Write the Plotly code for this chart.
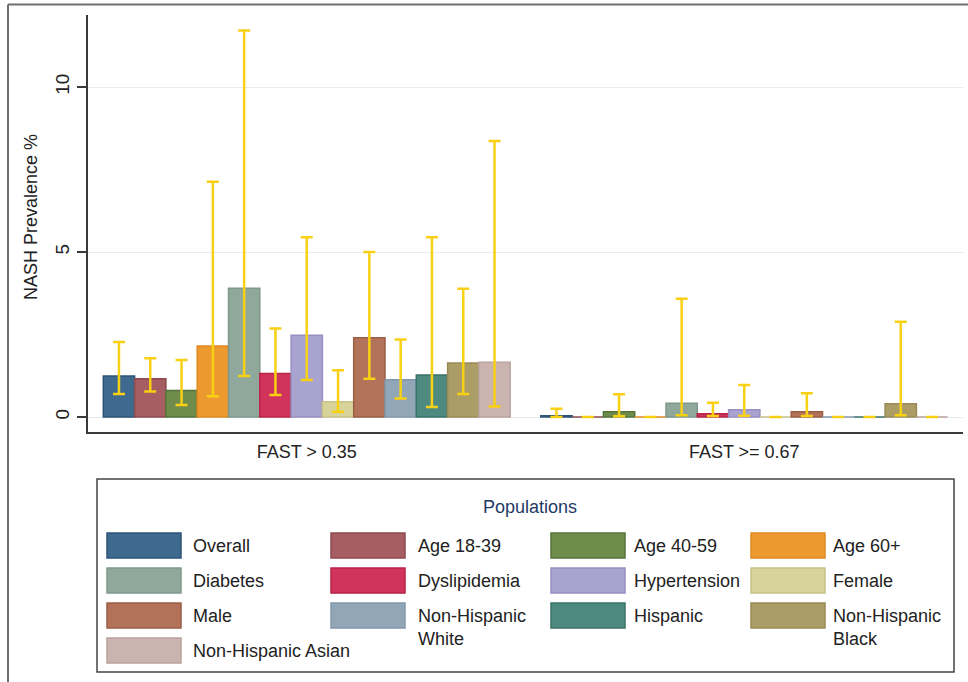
import plotly.graph_objects as go

# ---------------- data ----------------
categories = ["FAST > 0.35", "FAST >= 0.67"]
populations = ["Overall", "Age 18-39", "Age 40-59", "Age 60+", "Diabetes", "Dyslipidemia",
               "Hypertension", "Female", "Male", "Non-Hispanic White", "Hispanic",
               "Non-Hispanic Black", "Non-Hispanic Asian"]
legend_text = ["Overall", "Age 18-39", "Age 40-59", "Age 60+", "Diabetes", "Dyslipidemia",
               "Hypertension", "Female", "Male", "Non-Hispanic<br>White", "Hispanic",
               "Non-Hispanic<br>Black", "Non-Hispanic Asian"]
# prevalence (%) for FAST > 0.35 and FAST >= 0.67
prev_035 = [1.24, 1.16, 0.80, 2.15, 3.90, 1.32, 2.48, 0.46, 2.40, 1.13, 1.27, 1.64, 1.66]
prev_067 = [0.04, 0.00, 0.16, 0.00, 0.42, 0.10, 0.22, 0.00, 0.16, 0.00, 0.00, 0.40, 0.00]
# 95% CI lower / upper
low_035 = [0.70, 0.77, 0.36, 0.63, 1.24, 0.67, 1.12, 0.16, 1.16, 0.56, 0.30, 0.70, 0.32]
high_035 = [2.27, 1.78, 1.73, 7.13, 11.71, 2.68, 5.45, 1.42, 5.00, 2.35, 5.45, 3.89, 8.36]
low_067 = [0.00, 0.00, 0.02, 0.00, 0.05, 0.03, 0.04, 0.00, 0.03, 0.00, 0.00, 0.05, 0.00]
high_067 = [0.25, 0.00, 0.69, 0.00, 3.58, 0.43, 0.97, 0.00, 0.72, 0.00, 0.00, 2.89, 0.00]
y_ticks = [0, 5, 10]

fill_colors = ["#3F6A8F", "#A65E63", "#6F8C4C", "#EC9A2F", "#8FA89B", "#D0335B", "#A9A3D0",
               "#D8D39A", "#B3735A", "#91A7B8", "#4F8A80", "#AC9C66", "#CBB3AF"]
line_colors = ["#2D5478", "#8E4A50", "#56743A", "#E08A20", "#7F988A", "#B82548", "#9890C4",
               "#C8C288", "#9C5E45", "#8298AA", "#3A7268", "#9A8A55", "#BBA39F"]
ci_color = "#F8D014"

# ---------------- geometry helpers (figure pixels -> paper) ----------------
W, H = 968, 682
L, R, T, B = 88, 5, 15, 250
PW, PH = W - L - R, H - T - B


def px(x):
    return (x - L) / PW


def py(y):
    return (H - B - y) / PH


FONT = "Arial, Liberation Sans, sans-serif"
TXT = "#222222"

fig = go.Figure()
for i, name in enumerate(populations):
    vals = [prev_035[i], prev_067[i]]
    lows = [low_035[i], low_067[i]]
    highs = [high_035[i], high_067[i]]
    fig.add_trace(go.Bar(
        x=categories, y=vals, name=name, showlegend=False,
        marker=dict(color=fill_colors[i], line=dict(color=line_colors[i], width=1.5)),
        error_y=dict(type="data", symmetric=False,
                     array=[h - v for h, v in zip(highs, vals)],
                     arrayminus=[v - lo for v, lo in zip(vals, lows)],
                     color=ci_color, thickness=2.5, width=6),
    ))

fig.update_layout(
    width=W, height=H,
    margin=dict(l=L, r=R, t=T, b=B, autoexpand=False),
    paper_bgcolor="white", plot_bgcolor="white",
    barmode="group", bargap=0.07, bargroupgap=0,
    font=dict(family=FONT, size=18, color=TXT),
    xaxis=dict(range=[-0.5, 1.5], showline=True, linecolor="#3a3a3a", linewidth=2,
               ticks="outside", ticklen=2, tickcolor="rgba(0,0,0,0)",
               tickfont=dict(size=18, color=TXT), showgrid=False, zeroline=False,
               fixedrange=True),
    yaxis=dict(range=[-15 / 33, 402 / 33], tickvals=y_ticks, ticktext=[str(t) for t in y_ticks],
               tickangle=-90, ticks="outside", ticklen=9, tickcolor="#3a3a3a", tickwidth=1.5,
               showline=True, linecolor="#3a3a3a", linewidth=2,
               showgrid=True, gridcolor="#E3EDEF", gridwidth=1, zeroline=False,
               tickfont=dict(size=19, color=TXT), fixedrange=True),
)

shapes = []
annotations = []
# outer frame (top and left edges)
shapes.append(dict(type="line", xref="paper", yref="paper", x0=px(8), x1=px(968), y0=py(4.5), y1=py(4.5),
                   line=dict(color="#6e6e6e", width=2)))
shapes.append(dict(type="line", xref="paper", yref="paper", x0=px(8), x1=px(8), y0=py(4.5), y1=py(682),
                   line=dict(color="#6e6e6e", width=2)))
# y-axis title
annotations.append(dict(text="NASH Prevalence %", xref="paper", yref="paper", x=px(31), y=py(217),
                        textangle=-90, showarrow=False, xanchor="center", yanchor="middle",
                        font=dict(size=18, color=TXT)))
# legend box
shapes.append(dict(type="rect", xref="paper", yref="paper", x0=px(97), x1=px(954), y0=py(672), y1=py(479),
                   line=dict(color="#444444", width=1.5), fillcolor="white", layer="below"))
annotations.append(dict(text="Populations", xref="paper", yref="paper", x=px(530), y=py(507),
                        showarrow=False, xanchor="center", yanchor="middle",
                        font=dict(size=18, color="#1F3A66")))
col_x = [107, 331, 551, 751]
text_x = [191, 416, 632, 831]
row_top = [533, 568, 603, 638]
for i, lab in enumerate(legend_text):
    r, c = divmod(i, 4)
    y0 = row_top[r]
    shapes.append(dict(type="rect", xref="paper", yref="paper", x0=px(col_x[c]), x1=px(col_x[c] + 74),
                       y0=py(y0 + 25), y1=py(y0), fillcolor=fill_colors[i],
                       line=dict(color=line_colors[i], width=1.5)))
    annotations.append(dict(text=lab, xref="paper", yref="paper", x=px(text_x[c]), y=py(y0 + 1),
                            showarrow=False, xanchor="left", yanchor="top", align="left",
                            font=dict(size=18, color=TXT)))

fig.update_layout(shapes=shapes, annotations=annotations)
fig.write_html("out.html", config={"displayModeBar": False},
               post_script="document.body.style.margin='0';document.body.style.padding='0';")
